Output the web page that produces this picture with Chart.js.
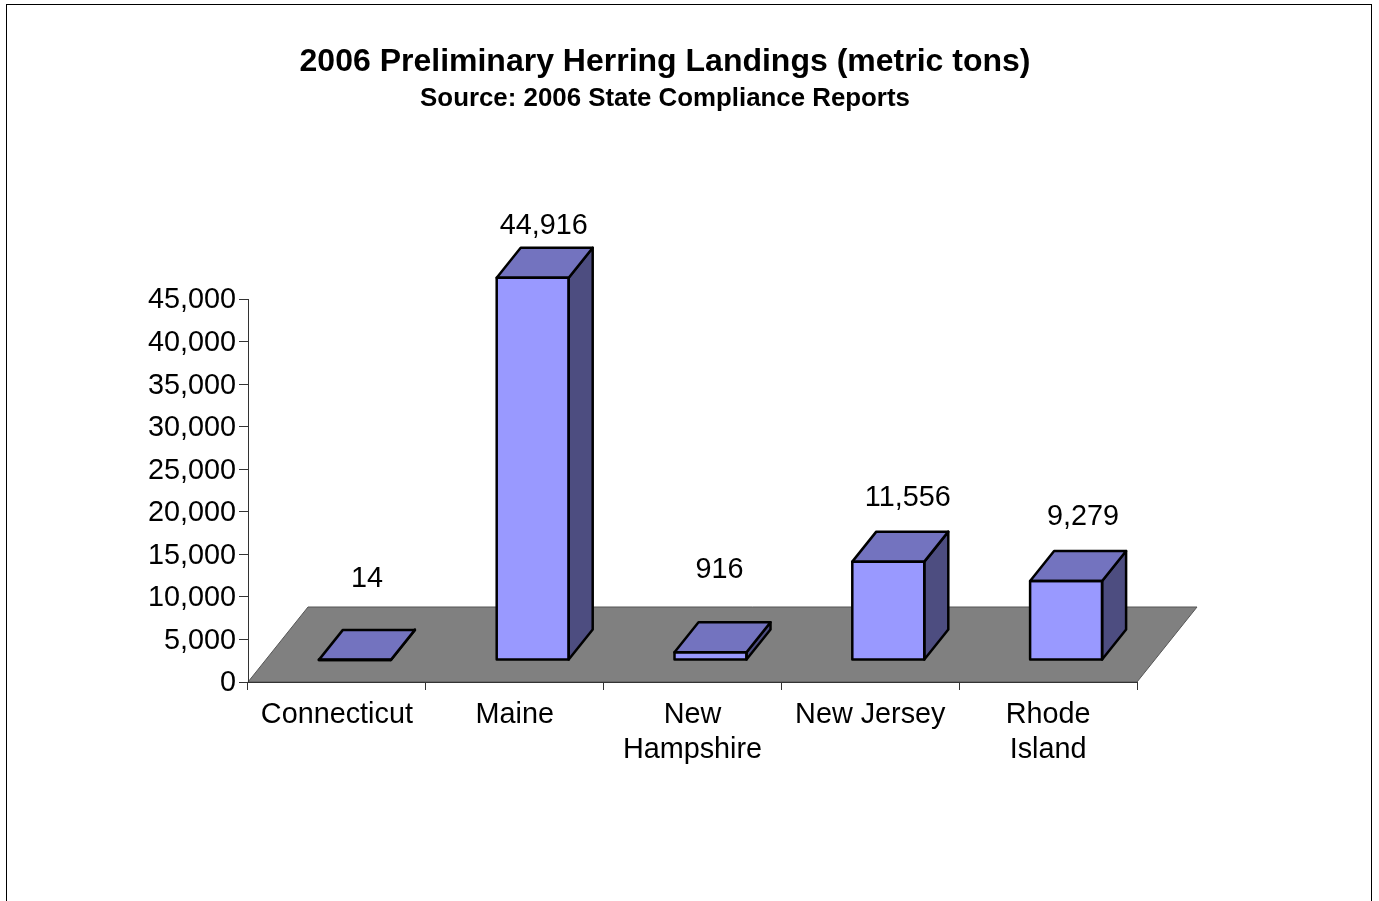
<!DOCTYPE html>
<html lang="en">
<head>
    <meta charset="UTF-8">
    <script src="https://cdn.jsdelivr.net/npm/chart.js"></script>
    <title>2006 Preliminary Herring Landings</title>
    <style>
        html, body { margin: 0; height: 100%; overflow: hidden; background: #fff; }
        canvas { position: absolute; left: 0; top: 0; }
        #frame { position: absolute; left: 6px; top: 4px; width: 1364px; height: 1000px; border: 1px solid #000; }
    </style>
</head>
<body>
<div id="frame"></div>
<canvas id="landingsChart" width="1379" height="901"></canvas>
<script>
    const states = ['Connecticut', 'Maine', ['New', 'Hampshire'], 'New Jersey', ['Rhode', 'Island']];
    const landings = [14, 44916, 916, 11556, 9279];
    const valueLabels = ['14', '44,916', '916', '11,556', '9,279'];

    // hand placed data labels, relative to the back top corner of each column
    const labelNudgeX = [-48, -49, -51, -40.5, -43];
    const labelNudgeY = [-51, -22, -52, -34, -34];

    const FONT = '"Liberation Sans", Arial, sans-serif';
    const barShift = { x: 18, y: -22 };  // column stands back from the axis
    const barDepth = { x: 24, y: -30 };
    const floorDepth = { x: 60, y: -75 };

    const fakeDepth = {
        id: 'fakeDepth',
        afterLayout(chart) {
            // layout padding moved the axis box in, don't let it clip the long tick labels
            chart.scales.y.left = 0;
        },
        beforeDatasetsDraw(chart) {
            const { ctx } = chart;
            const { left, right, bottom } = chart.chartArea;
            ctx.save();
            ctx.beginPath();
            ctx.moveTo(left, bottom);
            ctx.lineTo(right, bottom);
            ctx.lineTo(right + floorDepth.x, bottom + floorDepth.y);
            ctx.lineTo(left + floorDepth.x, bottom + floorDepth.y);
            ctx.closePath();
            ctx.fillStyle = '#808080';
            ctx.fill();
            ctx.lineWidth = 1;
            ctx.strokeStyle = '#555';
            ctx.stroke();
            ctx.restore();
        },
        beforeDatasetDraw(chart) {
            chart.ctx.save();
            chart.ctx.translate(barShift.x, barShift.y);
        },
        afterDatasetDraw(chart, args) {
            const { ctx } = chart;
            ctx.lineWidth = 2.5;
            ctx.lineJoin = 'round';
            ctx.strokeStyle = '#000';
            args.meta.data.forEach((bar, i) => {
                const half = bar.width / 2;
                const l = bar.x - half, r = bar.x + half, t = bar.y, b = bar.base;
                const dx = barDepth.x, dy = barDepth.y;

                const face = (pts, color) => {
                    ctx.beginPath();
                    pts.forEach((p, n) => n ? ctx.lineTo(p[0], p[1]) : ctx.moveTo(p[0], p[1]));
                    ctx.closePath();
                    if (color) {
                        ctx.fillStyle = color;
                        ctx.fill();
                    }
                    ctx.stroke();
                };
                face([[r, t], [r + dx, t + dy], [r + dx, b + dy], [r, b]], '#4d4d80');
                face([[l, t], [l + dx, t + dy], [r + dx, t + dy], [r, t]], '#7373bf');
                face([[l, t], [r, t], [r, b], [l, b]]);

                ctx.fillStyle = '#000';
                ctx.font = '28.8px ' + FONT;
                ctx.textAlign = 'center';
                ctx.textBaseline = 'middle';
                ctx.fillText(valueLabels[i], r + dx + labelNudgeX[i], t + dy + labelNudgeY[i]);
            });
            ctx.restore();
        }
    };

    new Chart(document.getElementById('landingsChart'), {
        type: 'bar',
        data: {
            labels: states,
            datasets: [{
                data: landings,
                backgroundColor: '#9999ff',
                borderWidth: 0,
                barThickness: 72,
                clip: false
            }]
        },
        options: {
            responsive: false,
            animation: false,
            // left and right are uneven so the title lands where the original has it
            layout: { padding: { left: 193, right: 242, top: 0, bottom: 0 } },
            plugins: {
                legend: { display: false },
                tooltip: { enabled: false },
                title: {
                    display: true,
                    text: '2006 Preliminary Herring Landings (metric tons)',
                    color: '#000',
                    font: { family: FONT, size: 32, weight: 'bold', lineHeight: 1.2 },
                    padding: { top: 43, bottom: 2 }
                },
                subtitle: {
                    display: true,
                    text: 'Source: 2006 State Compliance Reports',
                    color: '#000',
                    font: { family: FONT, size: 25.85, weight: 'bold', lineHeight: 1.2 },
                    padding: { top: 0, bottom: 184.6 }
                }
            },
            scales: {
                x: {
                    afterFit(scale) { scale.height = 219; },
                    border: { color: '#333', width: 1, z: 1 },
                    grid: { color: '#333', drawOnChartArea: false, tickLength: 8 },
                    ticks: {
                        color: '#000',
                        padding: 8,
                        maxRotation: 0,
                        autoSkip: false,
                        font: { family: FONT, size: 28.8, lineHeight: 1.2 }
                    }
                },
                y: {
                    min: 0,
                    max: 45000,
                    afterFit(scale) { scale.width = 55; },
                    border: { color: '#333', width: 1, z: 1 },
                    grid: { color: '#333', drawOnChartArea: false, tickLength: 9 },
                    ticks: {
                        stepSize: 5000,
                        color: '#000',
                        padding: 3,
                        labelOffset: 1.5,
                        font: { family: FONT, size: 28.8 },
                        callback: v => v.toLocaleString('en-US')
                    }
                }
            }
        },
        plugins: [fakeDepth]
    });
</script>
</body>
</html>
